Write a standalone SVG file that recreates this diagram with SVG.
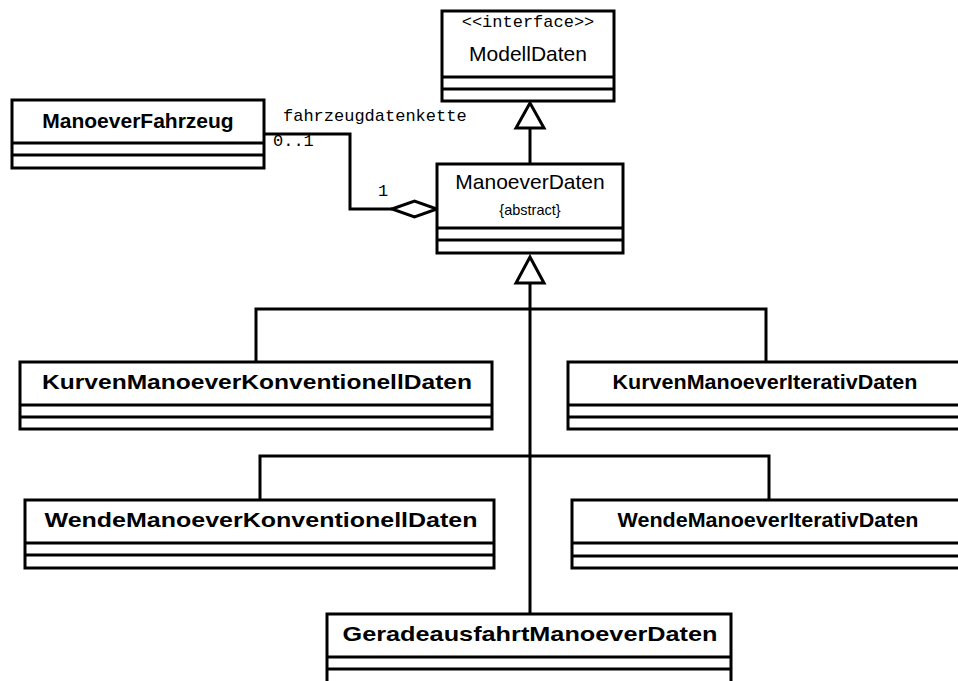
<svg xmlns="http://www.w3.org/2000/svg" width="958" height="681" viewBox="0 0 958 681">
  <style>
    .box { fill: #fff; stroke: #000; stroke-width: 3; }
    .sep { stroke: #000; stroke-width: 3; }
    .edge { fill: none; stroke: #000; stroke-width: 3; }
    .head { fill: #fff; stroke: #000; stroke-width: 3; stroke-linejoin: miter; }
    .name { font-family: "Liberation Sans", Arial, sans-serif; font-size: 21px; text-anchor: middle; fill: #000; }
    .bold { font-weight: bold; }
    .small { font-family: "Liberation Sans", Arial, sans-serif; font-size: 14.5px; text-anchor: middle; fill: #000; }
    .mono { font-family: "Liberation Mono", "Courier New", monospace; font-size: 17px; fill: #000; }
  </style>

  <!-- connectors -->
  <g id="connectors">
    <!-- ManoeverDaten realizes ModellDaten -->
    <line class="edge" x1="530" y1="128" x2="530" y2="164"/>
    <polygon class="head" points="530,103 516,128 544,128"/>

    <!-- subclasses of ManoeverDaten -->
    <line class="edge" x1="530" y1="283" x2="530" y2="614"/>
    <polyline class="edge" points="256,362 256,309 766,309 766,362"/>
    <polyline class="edge" points="260,500 260,456 769,456 769,500"/>
    <polygon class="head" points="530,257 516,283 544,283"/>

    <!-- aggregation ManoeverFahrzeug - ManoeverDaten -->
    <polyline class="edge" points="264,134 350,134 350,209 392,209"/>
    <polygon class="head" points="392,209 414.5,201 437,209 414.5,217"/>
    <text class="mono" x="283" y="121">fahrzeugdatenkette</text>
    <text class="mono" x="273" y="146">0..1</text>
    <text class="mono" x="378" y="196">1</text>
  </g>

  <g id="ModellDaten">
    <rect class="box" x="442" y="11" width="172" height="90"/>
    <line class="sep" x1="442" y1="77" x2="614" y2="77"/>
    <line class="sep" x1="442" y1="89" x2="614" y2="89"/>
    <text class="mono" x="528" y="27" text-anchor="middle">&lt;&lt;interface&gt;&gt;</text>
    <text class="name" x="528" y="61">ModellDaten</text>
  </g>

  <g id="ManoeverFahrzeug">
    <rect class="box" x="12" y="100" width="252" height="68"/>
    <line class="sep" x1="12" y1="143" x2="264" y2="143"/>
    <line class="sep" x1="12" y1="155" x2="264" y2="155"/>
    <text class="name bold" x="138" y="128">ManoeverFahrzeug</text>
  </g>

  <g id="ManoeverDaten">
    <rect class="box" x="437" y="164" width="186" height="89"/>
    <line class="sep" x1="437" y1="228" x2="623" y2="228"/>
    <line class="sep" x1="437" y1="240" x2="623" y2="240"/>
    <text class="name" x="530" y="189">ManoeverDaten</text>
    <text class="small" x="530" y="215">{abstract}</text>
  </g>

  <g id="KurvenManoeverKonventionellDaten">
    <rect class="box" x="20" y="362" width="472" height="67"/>
    <line class="sep" x1="20" y1="405" x2="492" y2="405"/>
    <line class="sep" x1="20" y1="417" x2="492" y2="417"/>
    <text class="name bold" x="257" y="389" textLength="430" lengthAdjust="spacingAndGlyphs">KurvenManoeverKonventionellDaten</text>
  </g>

  <g id="KurvenManoeverIterativDaten">
    <rect class="box" x="568" y="362" width="396" height="67"/>
    <line class="sep" x1="568" y1="405" x2="964" y2="405"/>
    <line class="sep" x1="568" y1="417" x2="964" y2="417"/>
    <text class="name bold" x="765" y="389" textLength="305" lengthAdjust="spacingAndGlyphs">KurvenManoeverIterativDaten</text>
  </g>

  <g id="WendeManoeverKonventionellDaten">
    <rect class="box" x="25" y="500" width="469" height="68"/>
    <line class="sep" x1="25" y1="543" x2="494" y2="543"/>
    <line class="sep" x1="25" y1="555" x2="494" y2="555"/>
    <text class="name bold" x="261" y="527" textLength="433" lengthAdjust="spacingAndGlyphs">WendeManoeverKonventionellDaten</text>
  </g>

  <g id="WendeManoeverIterativDaten">
    <rect class="box" x="572" y="500" width="394" height="68"/>
    <line class="sep" x1="572" y1="543" x2="966" y2="543"/>
    <line class="sep" x1="572" y1="556" x2="966" y2="556"/>
    <text class="name bold" x="768" y="527" textLength="301" lengthAdjust="spacingAndGlyphs">WendeManoeverIterativDaten</text>
  </g>

  <g id="GeradeausfahrtManoeverDaten">
    <rect class="box" x="327" y="614" width="404" height="80"/>
    <line class="sep" x1="327" y1="657" x2="731" y2="657"/>
    <line class="sep" x1="327" y1="669" x2="731" y2="669"/>
    <text class="name bold" x="530" y="641" textLength="375" lengthAdjust="spacingAndGlyphs">GeradeausfahrtManoeverDaten</text>
  </g>
</svg>
